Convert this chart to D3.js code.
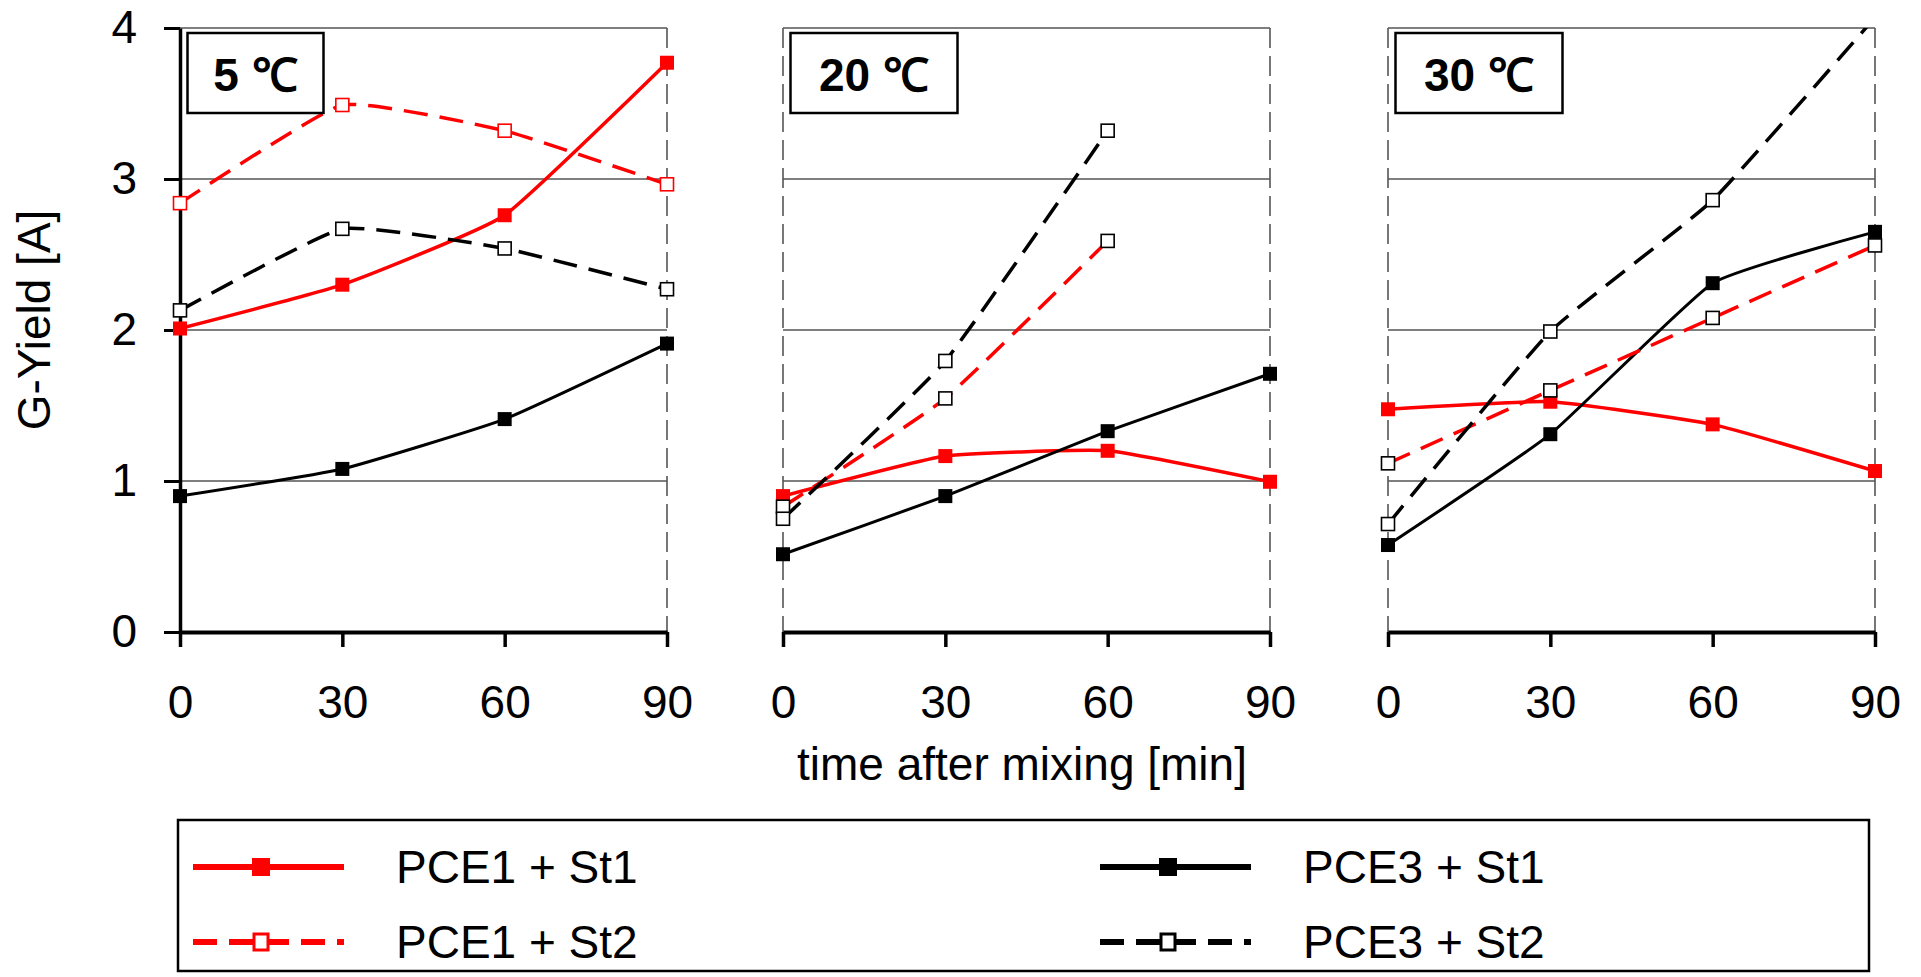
<!DOCTYPE html>
<html>
<head>
<meta charset="utf-8">
<script src="https://cdn.jsdelivr.net/npm/d3@7"></script>
<style>
  body { margin: 0; background: #fff; }
  svg { display: block; font-family: "Liberation Sans", Arial, sans-serif; }
</style>
</head>
<body>
<svg id="chart"></svg>
<script>
// Data
const minutes = [0, 30, 60, 90];
const yTicks = [0, 1, 2, 3, 4];
const panelTitles = ["5 \u2103", "20 \u2103", "30 \u2103"];
const seriesNames = ["PCE1 + St1", "PCE3 + St1", "PCE1 + St2", "PCE3 + St2"];

// one row per panel (5, 20, 30 °C), one value per minute
const pce1St1 = [[2.01, 2.30, 2.76, 3.77], [0.90, 1.165, 1.20, 0.995], [1.475, 1.525, 1.375, 1.066]];
const pce3St1 = [[0.90, 1.08, 1.41, 1.91], [0.515, 0.90, 1.33, 1.71], [0.576, 1.31, 2.31, 2.65]];
const pce1St2 = [[2.84, 3.49, 3.32, 2.965], [0.83, 1.547, 2.59, null], [1.117, 1.60, 2.08, 2.56]];
const pce3St2 = [[2.13, 2.67, 2.54, 2.27], [0.75, 1.795, 3.32, null], [0.715, 1.99, 2.86, 4.07]];

const width = 1921;
const height = 977;
const plotTop = 28, plotBottom = 632;
const panelLeft = [180, 783, 1388];
const panelWidth = 487;
const fontSize = 46;

const svg = d3.select("#chart")
    .attr("width", width)
    .attr("height", height);

const y = d3.scaleLinear().domain([0, 4]).range([plotBottom, plotTop]);

const styles = [
    { color: "#ff0000", dash: null, filled: true, width: 3.5 },
    { color: "#000000", dash: null, filled: true, width: 3 },
    { color: "#ff0000", dash: "24,12", filled: false, width: 3.5 },
    { color: "#000000", dash: "24,12", filled: false, width: 3.5 }
];
const seriesValues = [pce1St1, pce3St1, pce1St2, pce3St2];

panelTitles.forEach(function(title, p) {
    const x = d3.scaleLinear()
        .domain([0, 90])
        .range([panelLeft[p], panelLeft[p] + panelWidth]);
    const g = svg.append("g");

    // horizontal grid lines
    g.selectAll(".grid")
        .data(yTicks.filter(d => d > 0))
        .enter()
        .append("line")
        .attr("x1", x(0))
        .attr("x2", x(90))
        .attr("y1", d => y(d))
        .attr("y2", d => y(d))
        .attr("stroke", "#555")
        .attr("stroke-width", 1.6);

    // dashed vertical borders
    const borders = p === 0 ? [90] : [0, 90];
    g.selectAll(".vb")
        .data(borders)
        .enter()
        .append("line")
        .attr("x1", d => x(d))
        .attr("x2", d => x(d))
        .attr("y1", plotTop)
        .attr("y2", plotBottom)
        .attr("stroke", "#555")
        .attr("stroke-width", 1.6)
        .attr("stroke-dasharray", "20,8");

    // x axis
    const xAxis = g.append("g")
        .attr("transform", `translate(0, ${plotBottom})`)
        .call(d3.axisBottom(x).tickValues(minutes).tickSize(15).tickPadding(38).tickSizeOuter(0));
    xAxis.select(".domain").attr("stroke", "#000").attr("stroke-width", 4);
    xAxis.selectAll(".tick line").attr("stroke", "#000").attr("stroke-width", 3.5);
    xAxis.selectAll("text")
        .attr("fill", "#000")
        .style("font-size", fontSize + "px")
        .style("font-family", "'Liberation Sans', Arial, sans-serif");

    // y axis only on first panel
    if (p === 0) {
        const yAxis = g.append("g")
            .attr("transform", `translate(${x(0)}, 0)`)
            .call(d3.axisLeft(y).tickValues(yTicks).tickFormat(d3.format("d"))
                .tickSize(16).tickPadding(27).tickSizeOuter(0));
        yAxis.select(".domain").attr("stroke", "#000").attr("stroke-width", 3.5);
        yAxis.selectAll(".tick line").attr("stroke", "#000").attr("stroke-width", 3);
        yAxis.selectAll("text")
            .attr("fill", "#000")
            .style("font-size", fontSize + "px")
            .style("font-family", "'Liberation Sans', Arial, sans-serif");
    }

    // clip for lines
    const clipId = "clip" + p;
    svg.append("clipPath")
        .attr("id", clipId)
        .append("rect")
        .attr("x", x(0) - 20)
        .attr("y", plotTop)
        .attr("width", panelWidth + 40)
        .attr("height", plotBottom - plotTop);

    const line = d3.line()
        .defined(d => d.v != null)
        .x(d => x(d.t))
        .y(d => y(d.v))
        .curve(d3.curveCardinal.tension(0.6));

    seriesValues.forEach(function(vals, s) {
        const pts = minutes.map((t, i) => ({ t: t, v: vals[p][i] })).filter(d => d.v != null);
        g.append("path")
            .datum(pts)
            .attr("clip-path", `url(#${clipId})`)
            .attr("d", line)
            .attr("fill", "none")
            .attr("stroke", styles[s].color)
            .attr("stroke-width", styles[s].width)
            .attr("stroke-dasharray", styles[s].dash);
    });

    seriesValues.forEach(function(vals, s) {
        const pts = minutes.map((t, i) => ({ t: t, v: vals[p][i] }))
            .filter(d => d.v != null && d.v <= 4);
        const st = styles[s];
        const size = st.filled ? 14 : 13;
        // open markers of the red series are outlined red only in the 5 °C panel
        const openStroke = (p === 0) ? st.color : "#000";
        g.selectAll(".m" + s)
            .data(pts)
            .enter()
            .append("rect")
            .attr("x", d => x(d.t) - size / 2)
            .attr("y", d => y(d.v) - size / 2)
            .attr("width", size)
            .attr("height", size)
            .attr("fill", st.filled ? st.color : "#fff")
            .attr("stroke", st.filled ? "none" : openStroke)
            .attr("stroke-width", 1.6);
    });

    // panel title box
    const boxW = p === 0 ? 136 : 167;
    g.append("rect")
        .attr("x", x(0) + 7.5)
        .attr("y", 33)
        .attr("width", boxW)
        .attr("height", 80)
        .attr("fill", "#fff")
        .attr("stroke", "#000")
        .attr("stroke-width", 2.5);
    g.append("text")
        .attr("x", x(0) + 7.5 + boxW / 2)
        .attr("y", 91)
        .attr("text-anchor", "middle")
        .style("font-size", fontSize + "px")
        .style("font-weight", "bold")
        .text(title);
});

// axis titles
svg.append("text")
    .attr("x", 1022)
    .attr("y", 780)
    .attr("text-anchor", "middle")
    .style("font-size", fontSize + "px")
    .text("time after mixing [min]");

svg.append("text")
    .attr("transform", "translate(50, 320) rotate(-90)")
    .attr("text-anchor", "middle")
    .style("font-size", fontSize + "px")
    .text("G-Yield [A]");

// Legend
svg.append("rect")
    .attr("x", 178)
    .attr("y", 820)
    .attr("width", 1691)
    .attr("height", 151)
    .attr("fill", "#fff")
    .attr("stroke", "#000")
    .attr("stroke-width", 2.5);

const legendPos = [
    { x: 193, y: 867 },   // PCE1 + St1
    { x: 1100, y: 867 },  // PCE3 + St1
    { x: 193, y: 942 },   // PCE1 + St2
    { x: 1100, y: 942 }   // PCE3 + St2
];

const legend = svg.selectAll(".legend")
    .data(seriesNames)
    .enter()
    .append("g")
    .attr("class", "legend")
    .attr("transform", (d, i) => `translate(${legendPos[i].x}, ${legendPos[i].y})`);

legend.append("line")
    .attr("x1", 0)
    .attr("x2", 151)
    .attr("y1", 0)
    .attr("y2", 0)
    .attr("stroke", (d, i) => styles[i].color)
    .attr("stroke-width", 6)
    .attr("stroke-dasharray", (d, i) => styles[i].dash ? "24,12" : null);

legend.append("rect")
    .attr("x", (d, i) => styles[i].filled ? 68 - 9 : 68 - 7)
    .attr("y", (d, i) => styles[i].filled ? -9 : -8)
    .attr("width", (d, i) => styles[i].filled ? 18 : 14)
    .attr("height", (d, i) => styles[i].filled ? 18 : 16)
    .attr("fill", (d, i) => styles[i].filled ? styles[i].color : "#fff")
    .attr("stroke", (d, i) => styles[i].filled ? "none" : styles[i].color)
    .attr("stroke-width", 3);

legend.append("text")
    .attr("x", 203)
    .attr("y", 16)
    .style("font-size", fontSize + "px")
    .text(d => d);
</script>
</body>
</html>
